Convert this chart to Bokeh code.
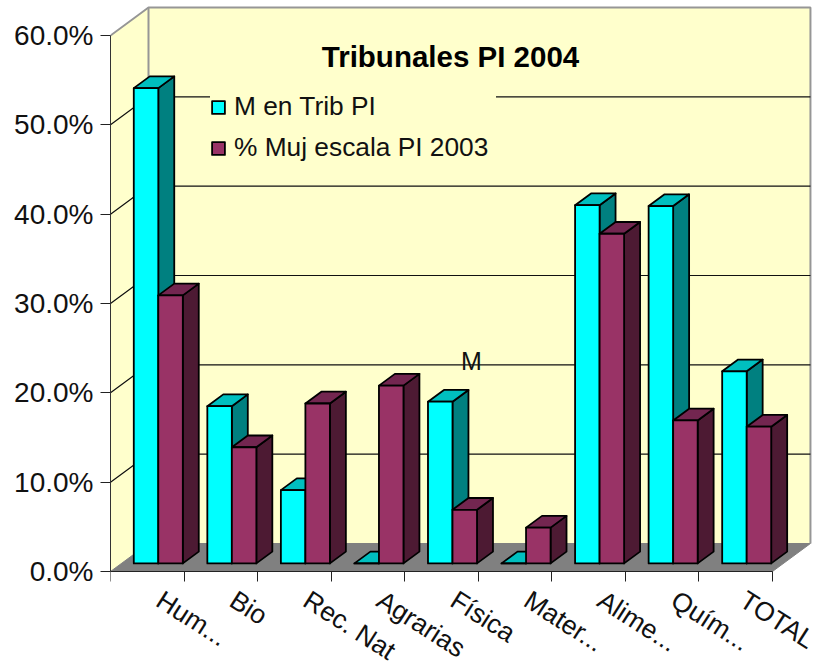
from bokeh.core.properties import value
from bokeh.embed import file_html
from bokeh.models import FixedTicker, Legend, LegendItem, PrintfTickFormatter
from bokeh.plotting import figure
from bokeh.resources import INLINE

categories = ["Hum...", "Bio", "Rec. Nat", "Agrarias", "Física", "Mater...", "Alime...", "Quím...", "TOTAL"]
trib_pi = [53.2, 17.6, 8.2, 0.0, 18.1, 0.0, 40.1, 40.0, 21.5]
muj_escala = [30.0, 13.0, 17.9, 19.9, 6.0, 4.0, 36.9, 16.0, 15.3]
y_ticks = [0, 10, 20, 30, 40, 50, 60]
FONT = "Liberation Sans"

PX_X = 73.55   # px per category
PX_Y = 8.933   # px per percent
DX = 38 / PX_X  # wall depth in category units
DY = 28 / PX_Y  # wall depth in value units
N = len(categories)
X_END = 710 / PX_X
Y_START = -97 / PX_Y
Y_END = 571 / PX_Y
WALL_TOP = 60 + DY
WALL_RIGHT = N + DX

GAP = 0.1667
BAR_W = 0.3333
D0 = 0.29   # front of the bars within the depth
D1 = 0.71   # back of the bars within the depth

p = figure(width=820, height=668, x_range=(0, X_END), y_range=(Y_START, Y_END),
           output_backend="svg", toolbar_location=None,
           min_border_left=110, min_border_right=0, min_border_top=0, min_border_bottom=0,
           background_fill_color="white", border_fill_color="white", outline_line_color=None)
p.grid.visible = False

# walls and floor
p.patch([0, DX, DX, 0], [0, DY, WALL_TOP, 60], fill_color="#FFFFCC", line_color=None)
p.patch([DX, WALL_RIGHT, WALL_RIGHT, DX], [DY, DY, WALL_TOP, WALL_TOP], fill_color="#FFFFCC", line_color=None)
p.patch([0, DX, WALL_RIGHT, N], [0, DY, DY, 0], fill_color="#808080", line_color="#808080", line_width=1)

# wall outline
p.line([0, DX, WALL_RIGHT, WALL_RIGHT], [60, WALL_TOP, WALL_TOP, DY], line_color="#969696", line_width=2)
p.line([DX, DX], [DY, WALL_TOP], line_color="#969696", line_width=2)

# gridlines
grid = y_ticks[1:-1]
p.multi_line([[0, DX, WALL_RIGHT] for _ in grid], [[t, t + DY, t + DY] for t in grid],
             line_color="#111111", line_width=1.2)


def bar_renderer(values, offset, front, top, side):
    xs_side, ys_side, xs_top, ys_top, left, right, tops = [], [], [], [], [], [], []
    for i, v in enumerate(values):
        x0 = i + GAP + offset + D0 * DX
        x1 = x0 + BAR_W
        b = D0 * DY
        t = b + v
        ddx = (D1 - D0) * DX
        ddy = (D1 - D0) * DY
        xs_side.append([x1, x1 + ddx, x1 + ddx, x1])
        ys_side.append([b, b + ddy, t + ddy, t])
        xs_top.append([x0, x0 + ddx, x1 + ddx, x1])
        ys_top.append([t, t + ddy, t + ddy, t])
        left.append(x0)
        right.append(x1)
        tops.append(t)
    kw = dict(line_color="black", line_width=1.8, line_join="round")
    p.patches(xs_side, ys_side, fill_color=side, **kw)
    p.patches(xs_top, ys_top, fill_color=top, **kw)
    return p.quad(left=left, right=right, bottom=[D0 * DY] * len(values), top=tops, fill_color=front, **kw)


r1 = bar_renderer(trib_pi, 0, "#00FFFF", "#00BFBF", "#008080")
r2 = bar_renderer(muj_escala, BAR_W, "#993366", "#732650", "#4D1A33")

# axes
p.yaxis.bounds = (0, 60)
p.yaxis.ticker = FixedTicker(ticks=y_ticks)
p.yaxis.formatter = PrintfTickFormatter(format="%.1f%%")
p.yaxis.major_label_text_font = FONT
p.yaxis.major_label_text_font_size = "28px"
p.yaxis.major_label_text_color = "#111111"
p.yaxis.major_tick_out = 10
p.yaxis.major_tick_in = 0
p.yaxis.minor_tick_out = 0
p.yaxis.minor_tick_in = 0
p.yaxis.major_label_standoff = 7
p.yaxis.axis_line_color = "#333333"
p.yaxis.major_tick_line_color = "#222222"

label_pos = [i + 0.66 for i in range(N)]
p.xaxis.fixed_location = 0
p.xaxis.bounds = (0, N)
p.xaxis.ticker = FixedTicker(ticks=label_pos, minor_ticks=list(range(N + 1)))
p.xaxis.major_label_overrides = dict(zip(label_pos, categories))
p.xaxis.major_label_orientation = -0.57
p.xaxis.major_label_text_font = FONT
p.xaxis.major_label_text_font_size = "26.5px"
p.xaxis.major_label_text_color = "#111111"
p.xaxis.major_tick_out = 0
p.xaxis.major_tick_in = 0
p.xaxis.major_tick_line_color = None
p.xaxis.minor_tick_out = 10
p.xaxis.minor_tick_in = 0
p.xaxis.minor_tick_line_color = "#222222"
p.xaxis.major_label_standoff = 16
p.xaxis.axis_line_color = "#222222"

# texts
p.text(x=[340 / PX_X], y=[515 / PX_Y], text=["Tribunales PI 2004"], text_font=value(FONT),
       text_font_size="29.5px", text_font_style="bold", text_align="center", text_baseline="middle", text_color="black")
p.text(x=[361 / PX_X], y=[211 / PX_Y], text=["M"], text_font=value(FONT),
       text_font_size="25px", text_align="center", text_baseline="middle", text_color="#111111")

legend = Legend(items=[LegendItem(label="M en Trib PI", renderers=[r1]),
                       LegendItem(label="% Muj escala PI 2003", renderers=[r2])],
                location=(100, 505), orientation="vertical", margin=0, padding=18, spacing=10,
                glyph_width=16, glyph_height=16, label_standoff=8, label_height=26, label_width=262,
                label_text_font=FONT, label_text_font_size="26.3px", label_text_color="#111111",
                background_fill_color="#FFFFCC", background_fill_alpha=1, border_line_color=None)
p.add_layout(legend)

open("out.html", "w").write(file_html(p, INLINE))
